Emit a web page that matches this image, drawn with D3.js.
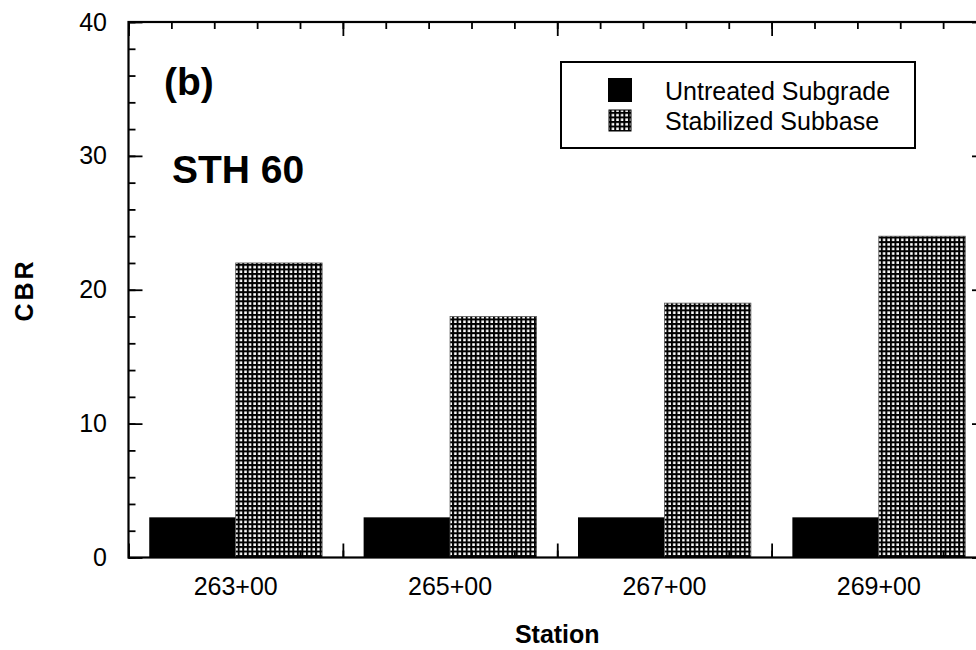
<!DOCTYPE html>
<html>
<head>
<meta charset="utf-8">
<script src="https://cdn.jsdelivr.net/npm/d3@7"></script>
<style>
  body { margin: 0; background: #fff; }
  svg { display: block; }
  text { font-family: Arial, "Liberation Sans", sans-serif; fill: #000; }
</style>
</head>
<body>
<div id="vis-container"></div>
<script>
// Data
const stations = ["263+00", "265+00", "267+00", "269+00"];
const untreated = [3, 3, 3, 3];
const stabilized = [22, 18, 19, 24];
const seriesNames = ["Untreated Subgrade", "Stabilized Subbase"];
const yTicks = [0, 10, 20, 30, 40];

const width = 976,
      height = 650,
      margin = {
          top: 22,
          bottom: 92.5,
          left: 128.5,
          right: -10   // right frame sits just past the picture edge
      };
const plotRight = width - margin.right,
      plotBottom = height - margin.bottom;

var svg = d3.select("#vis-container").append("svg")
    .attr("width", width)
    .attr("height", height);

// hatch pattern for the stabilized bars
var cell = 4.55, lineW = 2;
var defs = svg.append("defs");
var pat = defs.append("pattern")
    .attr("id", "grid")
    .attr("patternUnits", "userSpaceOnUse")
    .attr("width", cell)
    .attr("height", cell);
pat.append("rect").attr("width", cell).attr("height", cell).attr("fill", "#fff");
pat.append("rect").attr("x", 0).attr("y", 0).attr("width", lineW).attr("height", cell).attr("fill", "#000");
pat.append("rect").attr("x", 0).attr("y", 0).attr("width", cell).attr("height", lineW).attr("fill", "#000");

// ******* Scales *******
var x = d3.scaleBand().domain(stations).range([margin.left, plotRight]).padding(0);
var xs = d3.scaleBand().domain(seriesNames).range([0, x.bandwidth()]).paddingInner(0).paddingOuter(0.24);
var xLin = d3.scaleLinear().domain([0, stations.length]).range([margin.left, plotRight]);
var y = d3.scaleLinear().domain([0, 40]).range([plotBottom, margin.top]);

// ******* Bars *******
var rows = stations.map(function(s, i) {
    return {station: s, values: [untreated[i], stabilized[i]]};
});

var groups = svg.selectAll("g.station")
    .data(rows)
    .enter()
    .append("g")
    .attr("class", "station")
    .attr("transform", function(d) { return `translate(${x(d.station)} 0)`; });

groups.selectAll("rect")
    .data(function(d) { return d.values.map(function(v, j) { return {name: seriesNames[j], value: v}; }); })
    .enter()
    .append("rect")
    .attr("x", function(d) { return xs(d.name); })
    .attr("y", function(d) { return y(d.value); })
    .attr("width", xs.bandwidth())
    .attr("height", function(d) { return plotBottom - y(d.value); })
    .attr("fill", function(d) { return d.name == seriesNames[0] ? "#000" : "url(#grid)"; })
    .attr("stroke", function(d) { return d.name == seriesNames[0] ? "none" : "#555"; })
    .attr("stroke-width", 0.8);

// ******* Ticks (all inward) *******
var xMinor = d3.range(0, stations.length * 5 + 1).map(function(k) { return k / 5; });
var xMajor = d3.range(0, stations.length + 1);
var yMinor = d3.range(0, 41, 2);

function tickGroup(axis) {
    var g = svg.append("g").call(axis);
    g.select(".domain").remove();
    g.selectAll("line").attr("stroke", "#000").attr("stroke-width", 1.8);
    return g;
}

// bottom
tickGroup(d3.axisBottom(xLin).tickValues(xMinor).tickSize(-7).tickFormat(""))
    .attr("transform", `translate(0 ${plotBottom})`);
tickGroup(d3.axisBottom(xLin).tickValues(xMajor).tickSize(-14).tickFormat(""))
    .attr("transform", `translate(0 ${plotBottom})`);
// top
tickGroup(d3.axisTop(xLin).tickValues(xMinor).tickSize(-7).tickFormat(""))
    .attr("transform", `translate(0 ${margin.top})`);
tickGroup(d3.axisTop(xLin).tickValues(xMajor).tickSize(-14).tickFormat(""))
    .attr("transform", `translate(0 ${margin.top})`);
// left
tickGroup(d3.axisLeft(y).tickValues(yMinor).tickSize(-7).tickFormat(""))
    .attr("transform", `translate(${margin.left} 0)`);
tickGroup(d3.axisLeft(y).tickValues(yTicks).tickSize(-14).tickFormat(""))
    .attr("transform", `translate(${margin.left} 0)`);
// right
tickGroup(d3.axisRight(y).tickValues(yMinor).tickSize(-7).tickFormat(""))
    .attr("transform", `translate(${plotRight} 0)`);
tickGroup(d3.axisRight(y).tickValues(yTicks).tickSize(-14).tickFormat(""))
    .attr("transform", `translate(${plotRight} 0)`);

// frame
svg.append("rect")
    .attr("x", margin.left)
    .attr("y", margin.top)
    .attr("width", plotRight - margin.left)
    .attr("height", plotBottom - margin.top)
    .attr("fill", "none")
    .attr("stroke", "#000")
    .attr("stroke-width", 2.2);

// ******* Tick labels *******
var xLabels = svg.append("g")
    .attr("transform", `translate(0 ${plotBottom})`)
    .call(d3.axisBottom(x).tickSize(0).tickPadding(19.5));
xLabels.select(".domain").remove();
xLabels.selectAll("text").attr("font-size", 25).attr("font-family", null);

var yLabels = svg.append("g")
    .attr("transform", `translate(${margin.left} 0)`)
    .call(d3.axisLeft(y).tickValues(yTicks).tickSize(0).tickPadding(21.5));
yLabels.select(".domain").remove();
yLabels.selectAll("text").attr("font-size", 25).attr("font-family", null);

// ******* Axis titles *******
svg.append("text")
    .attr("x", (margin.left + plotRight) / 2)
    .attr("y", 643)
    .attr("text-anchor", "middle")
    .attr("font-size", 25)
    .attr("font-weight", "bold")
    .text("Station");

svg.append("text")
    .attr("transform", "translate(33 290) rotate(-90)")
    .attr("text-anchor", "middle")
    .attr("font-size", 25)
    .attr("font-weight", "bold")
    .attr("letter-spacing", 3)
    .text("CBR");

// ******* Annotations *******
svg.append("text")
    .attr("x", 164)
    .attr("y", 95)
    .attr("font-size", 39)
    .attr("font-weight", "bold")
    .text("(b)");

svg.append("text")
    .attr("x", 172)
    .attr("y", 183)
    .attr("font-size", 39)
    .attr("font-weight", "bold")
    .text("STH 60");

// ******* Legend *******
var legend = svg.append("g");
legend.append("rect")
    .attr("x", 561)
    .attr("y", 62)
    .attr("width", 354)
    .attr("height", 86)
    .attr("fill", "#fff")
    .attr("stroke", "#000")
    .attr("stroke-width", 2);

var legendRows = legend.selectAll("g.item")
    .data(seriesNames)
    .enter()
    .append("g")
    .attr("class", "item")
    .attr("transform", function(d, i) { return `translate(0 ${i * 30})`; });

legendRows.append("rect")
    .attr("x", function(d, i) { return i == 0 ? 608 : 609; })
    .attr("y", function(d, i) { return i == 0 ? 78 : 80; })
    .attr("width", function(d, i) { return i == 0 ? 24 : 22; })
    .attr("height", function(d, i) { return i == 0 ? 24 : 21; })
    .attr("fill", function(d, i) { return i == 0 ? "#000" : "url(#grid)"; })
    .attr("stroke", function(d, i) { return i == 0 ? "none" : "#000"; })
    .attr("stroke-width", 1);

legendRows.append("text")
    .attr("x", 665)
    .attr("y", 100)
    .attr("font-size", 25)
    .text(function(d) { return d; });
</script>
</body>
</html>
